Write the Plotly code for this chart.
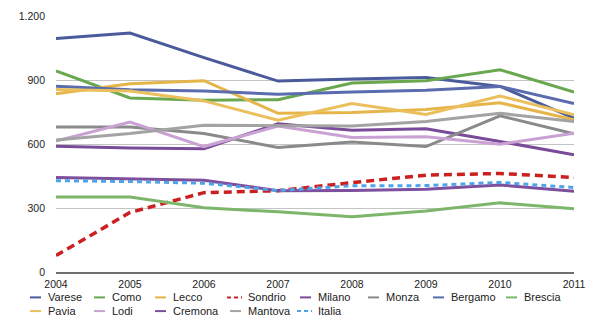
import plotly.graph_objects as go

# ---------------- data ----------------
years = [2004, 2005, 2006, 2007, 2008, 2009, 2010, 2011]

varese  = [1095, 1120, 1005, 895, 905, 912, 870, 721]
como    = [943, 816, 805, 808, 886, 896, 948, 843]
lecco   = [836, 882, 897, 744, 748, 762, 793, 714]
sondrio = [77, 279, 372, 381, 419, 454, 462, 443]
milano  = [589, 581, 578, 695, 665, 671, 612, 549]
monza   = [680, 680, 649, 584, 609, 588, 732, 648]
bergamo = [871, 854, 848, 833, 844, 852, 870, 790]
brescia = [352, 351, 301, 282, 259, 286, 324, 297]
pavia   = [855, 848, 802, 711, 790, 738, 825, 737]
lodi    = [614, 703, 588, 684, 630, 634, 599, 651]
cremona = [443, 436, 430, 381, 382, 388, 408, 378]
mantova = [619, 649, 688, 685, 684, 706, 744, 706]
italia  = [428, 424, 416, 382, 404, 405, 420, 396]

names = ["Varese", "Como", "Lecco", "Sondrio", "Milano", "Monza", "Bergamo", "Brescia",
         "Pavia", "Lodi", "Cremona", "Mantova", "Italia"]
series = [varese, como, lecco, sondrio, milano, monza, bergamo, brescia,
          pavia, lodi, cremona, mantova, italia]

y_ticks = [0, 300, 600, 900, 1200]

# ---------------- styles ----------------
colors = ["#4a5b9c", "#6aa84f", "#e6b54a", "#cc2020", "#7a4b98", "#8a8a8a", "#5a6cae",
          "#7db66b", "#ebbf5c", "#c9a1d3", "#7e4f9d", "#a3a3a3", "#4fa3e6"]
dashes = ["solid", "solid", "solid", "8px,5px", "solid", "solid", "solid", "solid",
          "solid", "solid", "solid", "solid", "5px,4px"]
widths = [3, 3, 3, 3.5, 3, 3, 3, 3, 3, 3, 3, 3, 3]

FONT = "Liberation Sans, Arial, Helvetica, sans-serif"

W, H = 600, 322
ML, MR, MT, MB = 56, 26, 10, 50
PW = W - ML - MR
PH = H - MT - MB

fig = go.Figure()
for name, vals, c, d, w in zip(names, series, colors, dashes, widths):
    fig.add_trace(go.Scatter(
        x=years, y=vals, name=name, mode="lines",
        line=dict(color=c, width=w, dash=d),
        showlegend=False,
    ))

# ---------------- legend (two rows, 8 columns) ----------------
col_text_px = [46, 110, 171, 246, 316, 384, 449, 522]
row_px = [298, 312]

def px_to_paper_x(px):
    return (px - ML) / PW

def py_to_paper_y(py):
    return (H - MB - py) / PH

shapes = []
annotations = []
for i, (name, c, d) in enumerate(zip(names, colors, dashes)):
    row, col = divmod(i, 8)
    tx = col_text_px[col]
    ty = row_px[row]
    if d == "solid":
        x0, x1 = tx - 16, tx - 5
    else:
        x0, x1 = tx - 19, tx - 4
    shapes.append(dict(
        type="line", xref="paper", yref="paper",
        x0=px_to_paper_x(x0), x1=px_to_paper_x(x1),
        y0=py_to_paper_y(ty), y1=py_to_paper_y(ty),
        line=dict(color=c, width=2, dash=("solid" if d == "solid" else "4px,3px")),
    ))
    annotations.append(dict(
        text=name, xref="paper", yref="paper",
        x=px_to_paper_x(tx), y=py_to_paper_y(ty),
        xanchor="left", yanchor="middle", showarrow=False,
        font=dict(family=FONT, size=11, color="#222222"),
    ))

fig.update_layout(
    width=W, height=H,
    margin=dict(l=ML, r=MR, t=MT, b=MB, pad=0),
    paper_bgcolor="white", plot_bgcolor="white",
    separators=",.",
    font=dict(family=FONT, size=10.5, color="#222222"),
    showlegend=False,
    shapes=shapes,
    annotations=annotations,
    xaxis=dict(
        range=[years[0], years[-1]],
        tickvals=years, ticktext=[str(y) for y in years],
        showgrid=False, zeroline=False,
        showline=True, linecolor="#6f6f6f", linewidth=2,
        ticks="", ticklabelstandoff=1,
        tickfont=dict(family=FONT, size=10.5, color="#222222"),
    ),
    yaxis=dict(
        range=[0, 1200],
        tickvals=y_ticks, separatethousands=True,
        showgrid=True, gridcolor="#c4c4c4", gridwidth=1,
        zeroline=False, showline=False, ticks="",
        ticklabelstandoff=10,
        tickfont=dict(family=FONT, size=10.5, color="#222222"),
    ),
)

fig.write_html("out.html")
